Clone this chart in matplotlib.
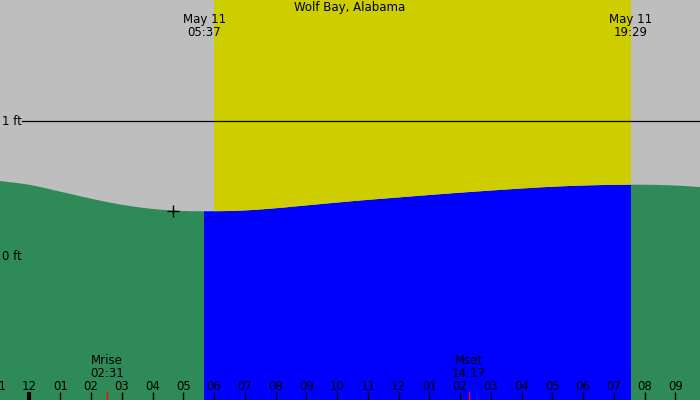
import numpy as np
import matplotlib
matplotlib.use("Agg")
import matplotlib.pyplot as plt
from matplotlib.transforms import blended_transform_factory

# ---- data ----
title = "Wolf Bay, Alabama"
hours = [-1, 0, 1, 2, 3, 4, 5, 6, 7, 8, 9, 10, 11, 12, 13, 14, 15, 16, 17, 18, 19, 20, 21, 22]
tide_ft = [0.560, 0.530, 0.480, 0.428, 0.383, 0.352, 0.337, 0.335, 0.341, 0.357, 0.378, 0.399,
           0.419, 0.437, 0.455, 0.472, 0.488, 0.503, 0.516, 0.525, 0.530, 0.531, 0.525, 0.511]
tick_hours = list(range(-1, 22))
tick_labels = ["11", "12", "01", "02", "03", "04", "05", "06", "07", "08", "09", "10", "11",
               "12", "01", "02", "03", "04", "05", "06", "07", "08", "09"]
sunrise_h, sunrise_label = 5 + 37 / 60, "May 11\n05:37"
sunset_h, sunset_label = 19 + 29 / 60, "May 11\n19:29"
day_fill_start = 6.0
moonrise_h, moonrise_label = 2 + 31 / 60, "Mrise\n02:31"
moonset_h, moonset_label = 14 + 17 / 60, "Mset\n14:17"
low_tide_h, low_tide_ft = 4.67, 0.338
ref_levels = [1, 0]
ref_labels = ["1 ft", "0 ft"]

# ---- colours ----
GRAY = "#BEBEBE"
YELLOW = "#CDCD00"
GREEN = "#2E8B57"
BLUE = "#0000FF"


def smooth_curve(xs, ys, n=20):
    """Catmull-Rom spline through the given points."""
    xs = np.asarray(xs, float)
    ys = np.asarray(ys, float)
    px = np.concatenate([[2 * xs[0] - xs[1]], xs, [2 * xs[-1] - xs[-2]]])
    py = np.concatenate([[2 * ys[0] - ys[1]], ys, [2 * ys[-1] - ys[-2]]])
    ox, oy = [], []
    t = np.linspace(0, 1, n, endpoint=False)
    for i in range(1, len(px) - 2):
        for P, out in ((px, ox), (py, oy)):
            p0, p1, p2, p3 = P[i - 1], P[i], P[i + 1], P[i + 2]
            out.extend(0.5 * (2 * p1 + (-p0 + p2) * t + (2 * p0 - 5 * p1 + 4 * p2 - p3) * t ** 2
                              + (-p0 + 3 * p1 - 3 * p2 + p3) * t ** 3))
    ox.append(xs[-1])
    oy.append(ys[-1])
    return np.array(ox), np.array(oy)


fig = plt.figure(figsize=(7, 4), dpi=100)
ax = fig.add_axes([0, 0, 1, 1])
ax.set_axis_off()
x0, x1 = -0.959, 21.80
y0, y1 = -1.061, 1.897
ax.set_xlim(x0, x1)
ax.set_ylim(y0, y1)

hd, td = smooth_curve(hours, tide_ft)
edge_shift = 2 / 30.75  # reference draws the day edges about 2 px late

# bottom: green at night, blue during day
ax.axvspan(x0 - 1, x1 + 1, color=GREEN, lw=0, zorder=0)
ax.axvspan(sunrise_h + edge_shift, sunset_h + edge_shift, color=BLUE, lw=0, zorder=1)
# top: gray above curve
top = ax.fill_between(hd, td, y1 + 1, color=GRAY, lw=0, zorder=2)
yel = ax.axvspan(day_fill_start, sunset_h + edge_shift, color=YELLOW, lw=0, zorder=3)
yel.set_clip_path(top.get_paths()[0], ax.transData)

# 1 ft line
fx = 22 / 700
ax.axhline(1, xmin=fx, xmax=1, color="black", lw=0.9, zorder=4)

tr = blended_transform_factory(ax.transAxes, ax.transData)
for lv, lb in zip(ref_levels, ref_labels):
    ax.text(2 / 700, lv, lb, transform=tr, ha="left", va="center", fontsize=8.5, zorder=5)

# low tide marker
ax.plot([low_tide_h], [low_tide_ft], marker="+", color="black", ms=8, mew=1, zorder=5)

tx = blended_transform_factory(ax.transData, ax.transAxes)
# title
ax.text(10.42, 1 - 7 / 400, title, transform=tx, ha="center", va="center", fontsize=8.5, zorder=5)
# sunrise/sunset labels
for h, lb in [(sunrise_h, sunrise_label), (sunset_h, sunset_label)]:
    ax.text(h + edge_shift, 1 - 26 / 400, lb, transform=tx, ha="center", va="center", fontsize=8.5,
            linespacing=0.95, zorder=5)
# moon labels
for h, lb in [(moonrise_h, moonrise_label), (moonset_h, moonset_label)]:
    ax.text(h, 1 - 367 / 400, lb, transform=tx, ha="center", va="center", fontsize=8.5,
            linespacing=0.95, zorder=5)
    ax.plot([h, h], [0, 8 / 400], transform=tx, color="red", lw=1, zorder=5, clip_on=False)

# hour ticks
for h, lb in zip(tick_hours, tick_labels):
    lw = 3 if h == 0 else 1
    ax.plot([h, h], [0, 8 / 400], transform=tx, color="black", lw=lw, zorder=5,
            solid_capstyle="butt")
    ax.text(h, 1 - 386 / 400, lb, transform=tx, ha="center", va="center", fontsize=8.5, zorder=5)

fig.savefig("out.png", dpi=100)
